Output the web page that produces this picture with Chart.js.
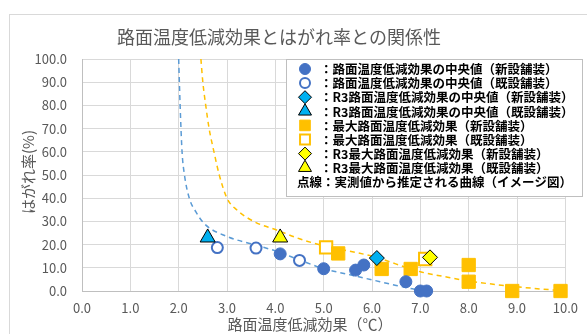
<!DOCTYPE html>
<html><head><meta charset="utf-8">
<script src="https://cdn.jsdelivr.net/npm/chart.js@4.4.0/dist/chart.umd.min.js"></script>
<style>html,body{margin:0;padding:0;background:#fff;overflow:hidden}canvas{display:block}</style>
</head><body>
<canvas id="c" width="587" height="334"></canvas>
<script>
// ---- text ----
const chartTitle = '路面温度低減効果とはがれ率との関係性';
const xAxisTitle = '路面温度低減効果（℃）';
const yAxisTitle = 'はがれ率(%)';
const legendLabels = [
  '：路面温度低減効果の中央値（新設舗装）',
  '：路面温度低減効果の中央値（既設舗装）',
  '：R3路面温度低減効果の中央値（新設舗装）',
  '：R3路面温度低減効果の中央値（既設舗装）',
  '：最大路面温度低減効果（新設舗装）',
  '：最大路面温度低減効果（既設舗装）',
  '：R3最大路面温度低減効果（新設舗装）',
  '：R3最大路面温度低減効果（既設舗装）'
];
const legendNote = '点線：実測値から推定される曲線（イメージ図）';
const xTickLabels = ['0.0','1.0','2.0','3.0','4.0','5.0','6.0','7.0','8.0','9.0','10.0'];
const yTickLabels = ['0.0','10.0','20.0','30.0','40.0','50.0','60.0','70.0','80.0','90.0','100.0'];

// ---- data ----
const medianNewX = [4.1, 5.0, 5.66, 5.83, 6.7, 7.0, 7.13];
const medianNewY = [16.0, 9.6, 9.0, 11.2, 4.0, 0.0, 0.0];
const medianExistX = [2.8, 3.6, 4.5];
const medianExistY = [18.7, 18.5, 13.2];
const r3MedianNewX = [6.1];
const r3MedianNewY = [14.2];
const r3MedianExistX = [2.6];
const r3MedianExistY = [23.0];
const maxNewX = [5.3, 6.2, 6.8, 8.0, 8.0, 8.9, 9.9];
const maxNewY = [16.2, 9.5, 9.5, 11.2, 4.0, 0.0, 0.0];
const maxExistX = [5.05, 7.1];
const maxExistY = [18.8, 13.8];
const r3MaxNewX = [7.2];
const r3MaxNewY = [14.5];
const r3MaxExistX = [4.1];
const r3MaxExistY = [23.0];
// estimated curves (image)
const blueCurveX = [2.0, 2.03, 2.07, 2.12, 2.22, 2.36, 2.53, 3.0, 3.5, 4.0, 4.5, 5.0, 5.5, 6.0, 6.5, 7.0];
const blueCurveY = [100, 80, 60, 50, 40, 34, 29, 23.5, 20.3, 17.3, 13.4, 9.6, 7.2, 4.8, 2.4, 0.2];
const orangeCurveX = [2.46, 2.5, 2.56, 2.63, 2.73, 2.84, 3.0, 3.2, 3.6, 4.0, 4.5, 5.0, 6.0, 7.0, 7.5, 8.0, 9.0, 10.0];
const orangeCurveY = [100, 90, 80, 70, 60, 50, 40, 35, 29.5, 26.5, 22.5, 19.5, 15, 8.3, 6.2, 4.3, 1.8, 0];

// ---- styles ----
const markerStyles = [
  {ps:'circle', r:6, bg:'#4472C4', bc:'#4472C4', bw:1, order:1, lr:5.5},
  {ps:'circle', r:5.5, bg:'#FFFFFF', bc:'#4472C4', bw:2, order:1, lr:5},
  {ps:'rectRot', r:7.5, bg:'#00B0F0', bc:'#000000', bw:1, order:0, lr:6.5},
  {ps:'triangle', r:8.7, bg:'#00B0F0', bc:'#000000', bw:1, order:0, lr:7.5},
  {ps:'rect', r:9.4, bg:'#FFC000', bc:'#FFC000', bw:1, order:1, lr:7.5},
  {ps:'rect', r:8.7, bg:'#FFFFFF', bc:'#FFC000', bw:2, order:2, lr:7},
  {ps:'rectRot', r:7.5, bg:'#FFFF00', bc:'#000000', bw:1, order:0, lr:6.5},
  {ps:'triangle', r:8.7, bg:'#FFFF00', bc:'#000000', bw:1, order:0, lr:7.5}
];

const zip = (xs, ys) => xs.map((x, i) => ({x: x, y: ys[i]}));
const seriesData = [
  zip(medianNewX, medianNewY),
  zip(medianExistX, medianExistY),
  zip(r3MedianNewX, r3MedianNewY),
  zip(r3MedianExistX, r3MedianExistY),
  zip(maxNewX, maxNewY),
  zip(maxExistX, maxExistY),
  zip(r3MaxNewX, r3MaxNewY),
  zip(r3MaxExistX, r3MaxExistY)
];

const datasets = seriesData.map((d, i) => ({
  label: legendLabels[i],
  data: d,
  pointStyle: markerStyles[i].ps,
  pointRadius: markerStyles[i].r,
  pointHoverRadius: markerStyles[i].r,
  backgroundColor: markerStyles[i].bg,
  borderColor: markerStyles[i].bc,
  pointBorderWidth: markerStyles[i].bw,
  showLine: false,
  clip: false,
  order: markerStyles[i].order
}));
datasets.push({
  label: 'curveBlue', data: zip(blueCurveX, blueCurveY), showLine: true,
  borderColor: '#5B9BD5', borderWidth: 1.5, borderDash: [5, 4], pointRadius: 0,
  cubicInterpolationMode: 'monotone', order: 10, fill: false
});
datasets.push({
  label: 'curveOrange', data: zip(orangeCurveX, orangeCurveY), showLine: true,
  borderColor: '#FFC000', borderWidth: 1.5, borderDash: [5, 4], pointRadius: 0,
  cubicInterpolationMode: 'monotone', order: 10, fill: false
});

const FONT = '"Noto Sans CJK JP", "Noto Sans", sans-serif';

const decor = {
  id: 'decor',
  beforeDraw(chart) {
    const ctx = chart.ctx;
    ctx.save();
    ctx.fillStyle = '#fff';
    ctx.fillRect(0, 0, chart.width, chart.height);
    ctx.strokeStyle = '#D9D9D9';
    ctx.lineWidth = 1;
    ctx.strokeRect(9.5, 14.5, 700, 400);
    ctx.restore();
  },
  afterDraw(chart) {
    const ctx = chart.ctx;
    ctx.save();
    // title
    ctx.fillStyle = '#595959';
    ctx.font = '18px ' + FONT;
    ctx.textAlign = 'center';
    ctx.textBaseline = 'middle';
    ctx.fillText(chartTitle, 279, 37);
    // axis titles
    ctx.font = '15px ' + FONT;
    ctx.fillText(xAxisTitle, 310, 324);
    ctx.save();
    ctx.translate(28, 172);
    ctx.rotate(-Math.PI / 2);
    ctx.fillText(yAxisTitle, 0, 0);
    ctx.restore();
    // legend box
    const lx = 286.5, ly = 59.5, lw = 296, lh = 137;
    ctx.fillStyle = '#fff';
    ctx.fillRect(lx, ly, lw, lh);
    ctx.strokeStyle = '#BFBFBF';
    ctx.lineWidth = 1;
    ctx.strokeRect(lx, ly, lw, lh);
    ctx.font = 'bold 12.5px ' + FONT;
    ctx.textAlign = 'left';
    ctx.textBaseline = 'middle';
    for (let i = 0; i < legendLabels.length; i++) {
      const y = 69 + i * 14.1;
      const s = markerStyles[i];
      ctx.fillStyle = s.bg;
      ctx.strokeStyle = s.bc;
      ctx.lineWidth = s.bw;
      Chart.helpers.drawPoint(ctx, {pointStyle: s.ps, radius: s.lr, rotation: 0, borderWidth: s.bw}, 305, y);
      ctx.fillStyle = '#000';
      ctx.fillText(legendLabels[i], 320, y + 0.5);
    }
    ctx.fillStyle = '#000';
    ctx.fillText(legendNote, 297, 69 + 8 * 14.1 + 0.5);
    ctx.restore();
  }
};

new Chart(document.getElementById('c'), {
  type: 'scatter',
  data: { datasets: datasets },
  plugins: [decor],
  options: {
    responsive: false,
    animation: false,
    events: [],
    layout: { padding: { left: 9, right: 18, top: 59, bottom: 0 } },
    plugins: { legend: { display: false }, tooltip: { enabled: false }, title: { display: false } },
    scales: {
      x: {
        type: 'linear', min: 0, max: 10,
        afterFit: s => { s.height = 43; },
        ticks: {
          stepSize: 1, padding: 9, color: '#595959', font: { size: 13, family: FONT },
          maxRotation: 0, autoSkip: false,
          callback: (v) => xTickLabels[Math.round(v)]
        },
        grid: { color: '#D9D9D9', drawTicks: false },
        border: { color: '#BFBFBF' }
      },
      y: {
        type: 'linear', min: 0, max: 100,
        afterFit: s => { s.width = 73; },
        ticks: {
          stepSize: 10, padding: 15, color: '#595959', font: { size: 13, family: FONT },
          callback: (v) => yTickLabels[Math.round(v / 10)]
        },
        grid: { color: '#D9D9D9', drawTicks: false },
        border: { color: '#BFBFBF' }
      }
    }
  }
});
</script>
</body></html>
